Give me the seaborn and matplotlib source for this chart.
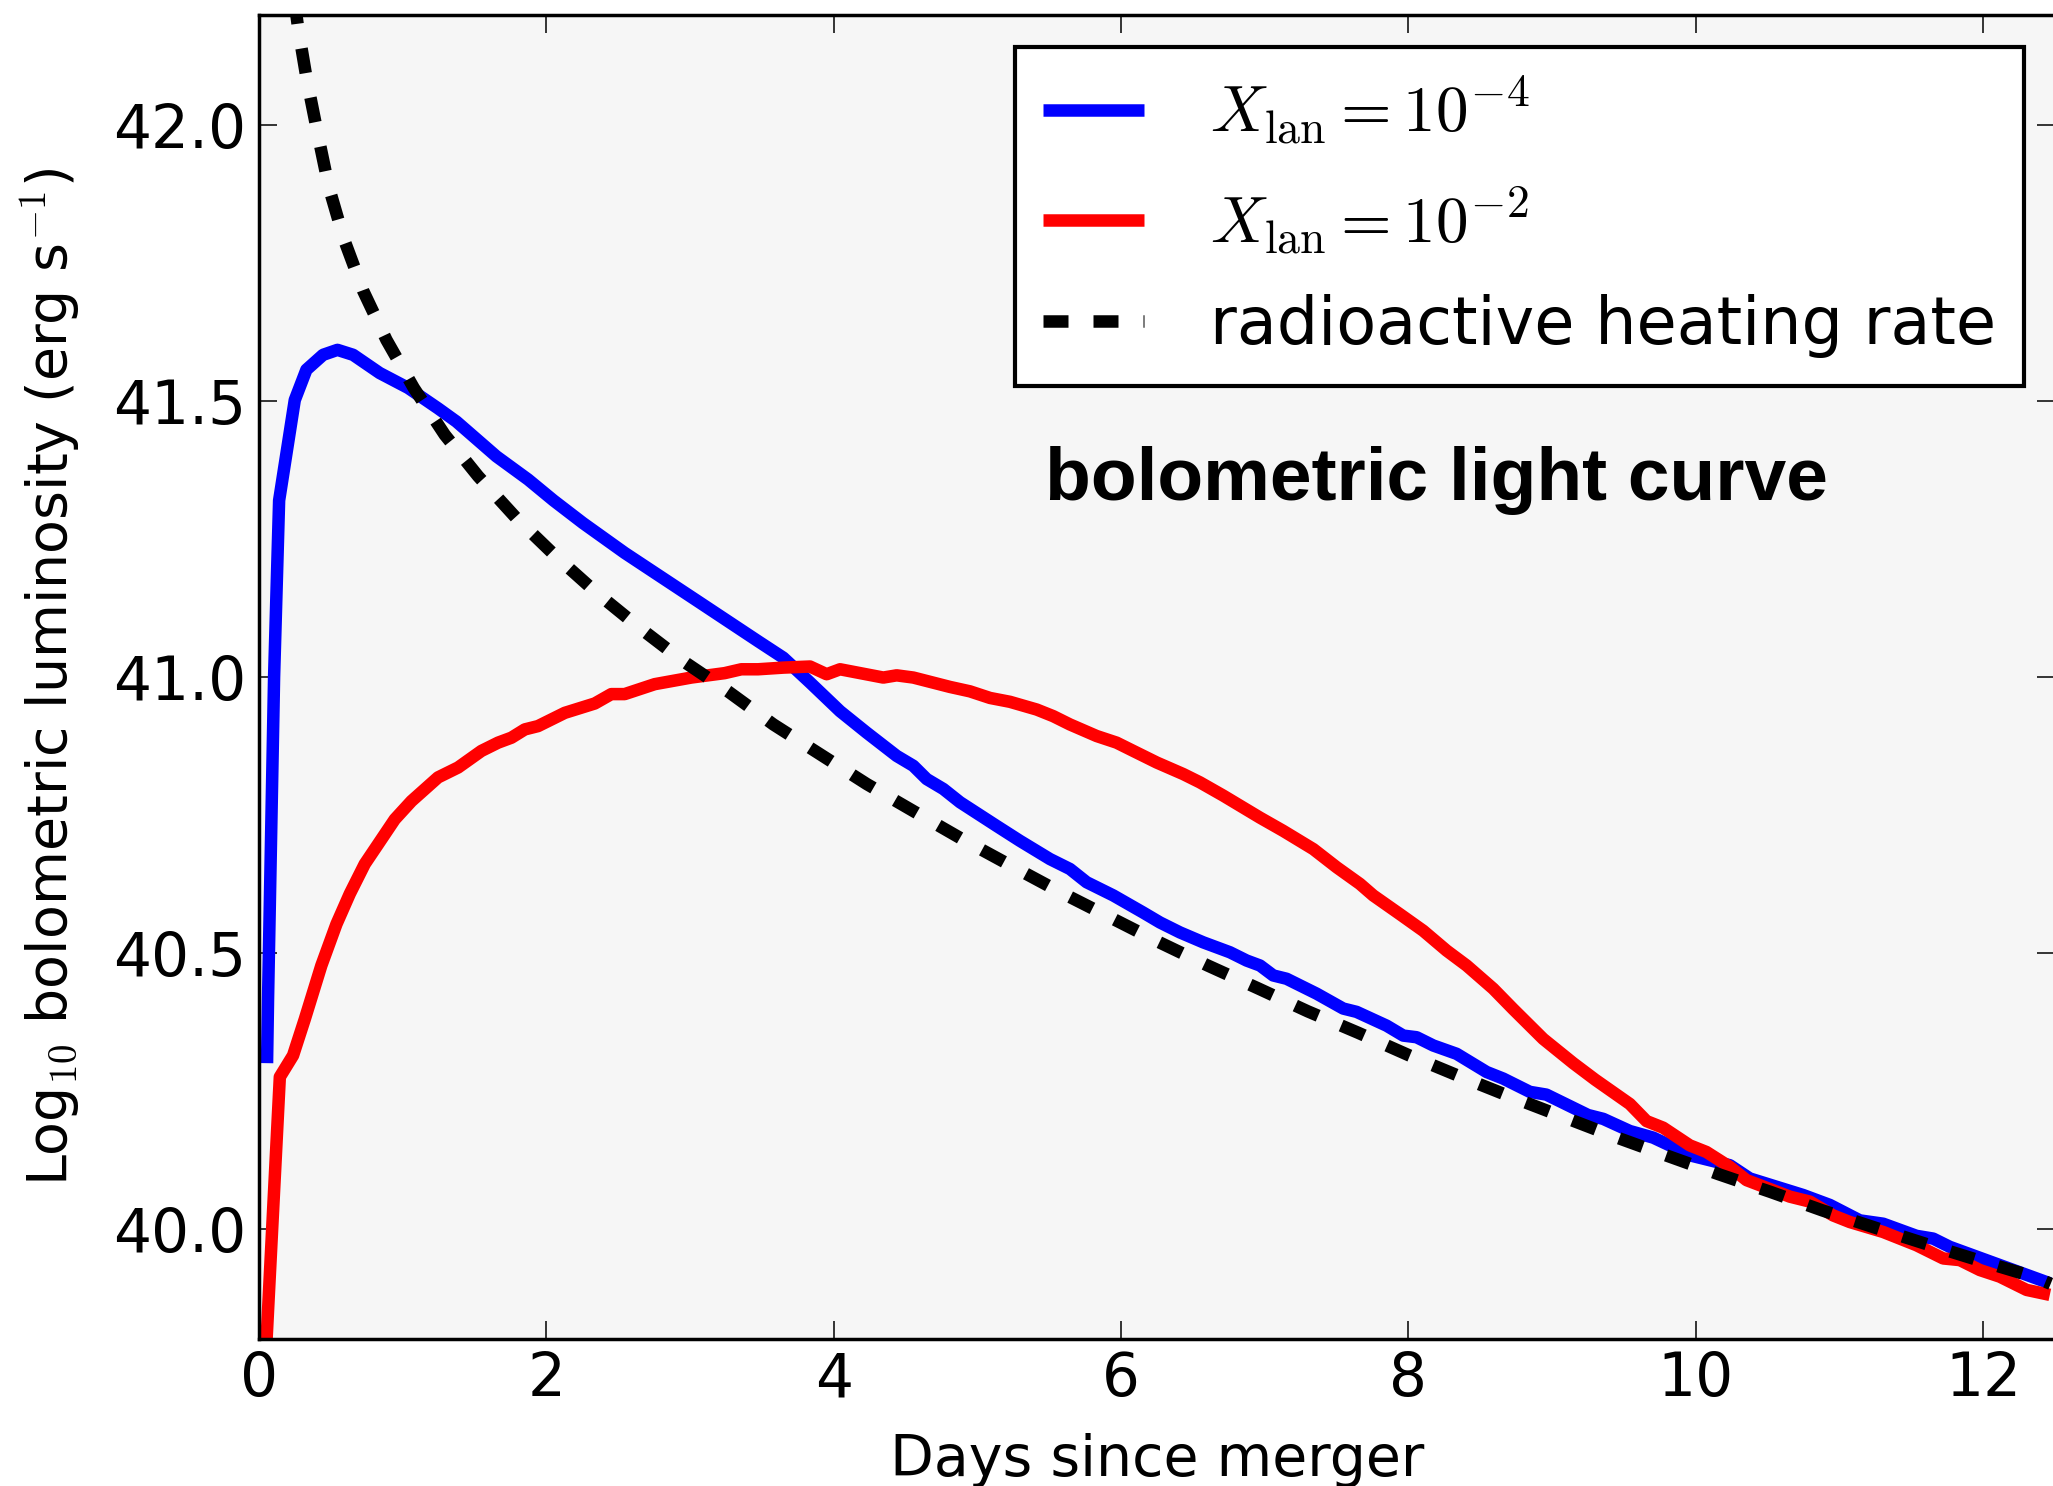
import matplotlib
matplotlib.use("Agg")
import matplotlib.pyplot as plt
import seaborn as sns

# ---------------- data ----------------
days_blue = [0.056, 0.063, 0.105, 0.140, 0.249, 0.330, 0.446, 0.546, 0.655, 0.840,
             1.038, 1.246, 1.374, 1.652, 1.873, 2.050, 2.255, 2.545, 2.754, 3.056,
             3.334, 3.473, 3.649, 3.835, 4.044, 4.230, 4.438, 4.554, 4.647, 4.763,
             4.879, 5.134, 5.296, 5.505, 5.644, 5.760, 5.946, 6.154, 6.271, 6.410,
             6.572, 6.758, 6.874, 6.967, 7.059, 7.152, 7.361, 7.546, 7.639, 7.848,
             7.964, 8.057, 8.173, 8.335, 8.544, 8.660, 8.845, 8.960, 9.250, 9.356,
             9.541, 9.704, 9.843, 9.958, 10.237, 10.376, 10.747, 10.933, 11.142, 11.304,
             11.536, 11.652, 11.768, 12.116, 12.464]
lum_blue = [40.30, 40.417, 41.0, 41.32, 41.502, 41.557, 41.584, 41.593, 41.584, 41.551,
            41.524, 41.487, 41.463, 41.40, 41.358, 41.32, 41.279, 41.225, 41.189, 41.137,
            41.089, 41.065, 41.035, 40.99, 40.938, 40.899, 40.857, 40.839, 40.815, 40.797,
            40.773, 40.73, 40.703, 40.67, 40.652, 40.628, 40.604, 40.573, 40.555, 40.537,
            40.519, 40.501, 40.486, 40.477, 40.459, 40.453, 40.426, 40.399, 40.393, 40.368,
            40.35, 40.347, 40.332, 40.317, 40.284, 40.272, 40.248, 40.243, 40.206, 40.199,
            40.177, 40.165, 40.148, 40.133, 40.115, 40.091, 40.061, 40.043, 40.015, 40.009,
            39.987, 39.982, 39.967, 39.934, 39.901]

days_red = [0.051, 0.145, 0.237, 0.319, 0.434, 0.539, 0.632, 0.736, 0.829, 0.945,
            1.061, 1.246, 1.386, 1.548, 1.664, 1.757, 1.850, 1.942, 2.128, 2.337,
            2.452, 2.545, 2.754, 3.009, 3.241, 3.357, 3.473, 3.649, 3.835, 3.951,
            4.044, 4.345, 4.438, 4.554, 4.809, 4.948, 5.088, 5.227, 5.413, 5.528,
            5.644, 5.830, 5.969, 6.085, 6.248, 6.433, 6.549, 6.711, 6.967, 7.129,
            7.338, 7.501, 7.662, 7.755, 7.941, 8.103, 8.266, 8.405, 8.590, 8.729,
            8.938, 9.147, 9.300, 9.541, 9.657, 9.773, 9.958, 10.074, 10.237, 10.353,
            10.655, 10.794, 10.956, 11.072, 11.304, 11.536, 11.722, 11.838, 11.977, 12.116,
            12.302, 12.464]
lum_red = [39.79, 40.275, 40.314, 40.38, 40.477, 40.552, 40.607, 40.661, 40.697, 40.742,
           40.775, 40.818, 40.836, 40.866, 40.881, 40.89, 40.905, 40.911, 40.935, 40.952,
           40.969, 40.969, 40.987, 40.999, 41.007, 41.014, 41.014, 41.017, 41.019, 41.005,
           41.014, 40.999, 41.003, 40.999, 40.982, 40.974, 40.962, 40.955, 40.941, 40.929,
           40.914, 40.893, 40.881, 40.866, 40.845, 40.824, 40.809, 40.785, 40.745, 40.721,
           40.688, 40.655, 40.625, 40.604, 40.570, 40.540, 40.504, 40.477, 40.435, 40.398,
           40.344, 40.30, 40.27, 40.226, 40.195, 40.183, 40.151, 40.139, 40.112, 40.088,
           40.058, 40.049, 40.024, 40.012, 39.994, 39.970, 39.946, 39.943, 39.925, 39.913,
           39.889, 39.880]

days_heat = [0.22, 0.272, 0.330, 0.406, 0.486, 0.592, 0.725, 0.887, 1.077, 1.293,
             1.525, 1.791, 2.065, 2.348, 2.650, 2.951, 3.264, 3.580, 3.905, 4.230,
             4.561, 4.895, 5.234, 5.570, 5.911, 6.259, 6.603, 6.950, 7.299, 7.651,
             8.006, 8.358, 8.713, 9.073, 9.432, 9.792, 10.156, 10.516, 10.882, 11.246,
             11.606, 11.977, 12.348, 12.47]
lum_heat = [42.28, 42.177, 42.087, 41.988, 41.888, 41.793, 41.70, 41.611, 41.524, 41.439,
            41.364, 41.288, 41.219, 41.153, 41.089, 41.029, 40.974, 40.914, 40.86, 40.806,
            40.756, 40.706, 40.658, 40.611, 40.566, 40.52, 40.477, 40.436, 40.394, 40.355,
            40.314, 40.276, 40.239, 40.203, 40.167, 40.133, 40.099, 40.067, 40.033, 40.002,
            39.972, 39.942, 39.913, 39.90]

series_labels = [r"$X_{\rm lan}=10^{-4}$", r"$X_{\rm lan}=10^{-2}$", "radioactive heating rate"]
x_ticks = [0, 2, 4, 6, 8, 10, 12]
x_ticklabels = ["0", "2", "4", "6", "8", "10", "12"]
y_ticks = [40.0, 40.5, 41.0, 41.5, 42.0]
y_ticklabels = ["40.0", "40.5", "41.0", "41.5", "42.0"]
annotation = "bolometric light curve"
x_label = "Days since merger"
y_label = r"Log$_{10}$ bolometric luminosity (erg s$^{-1}$)"

# ---------------- style ----------------
sns.set_theme(style="ticks")
plt.rcParams["font.family"] = ["DejaVu Sans"]
plt.rcParams["mathtext.fontset"] = "cm"
plt.rcParams["axes.linewidth"] = 2.5
for k in ["text.color", "axes.labelcolor", "xtick.color", "ytick.color", "axes.edgecolor"]:
    plt.rcParams[k] = "black"

W, H = 2053, 1486
fig = plt.figure(figsize=(W / 100, H / 100), dpi=100)
ax_l, ax_r, ax_t, ax_b = 259, 2055, 15, 1339
ax = fig.add_axes([ax_l / W, 1 - ax_b / H, (ax_r - ax_l) / W, (ax_b - ax_t) / H])
ax.set_facecolor("#f6f6f6")

LW = 9
sns.lineplot(x=days_blue, y=lum_blue, ax=ax, color="#0000ff", lw=LW, sort=False,
             estimator=None, label=series_labels[0], solid_capstyle="butt")
sns.lineplot(x=days_red, y=lum_red, ax=ax, color="#ff0000", lw=LW, sort=False,
             estimator=None, label=series_labels[1], solid_capstyle="butt")
sns.lineplot(x=days_heat, y=lum_heat, ax=ax, color="black", lw=LW, sort=False,
             estimator=None, label=series_labels[2])
ax.lines[-1].set_dashes([2.0, 2.0])

ax.set_xlim(0, 12.5)
ax.set_ylim(39.8, 42.2)
ax.set_xticks(x_ticks)
ax.set_xticklabels(x_ticklabels)
ax.set_yticks(y_ticks)
ax.set_yticklabels(y_ticklabels)
ax.tick_params(axis="both", which="major", direction="in", length=13, width=1.1,
               top=True, right=True, labelsize=43, color="black", labelcolor="black")
ax.tick_params(axis="x", pad=8)
ax.tick_params(axis="y", pad=9)
ax.minorticks_off()
for s in ax.spines.values():
    s.set_color("black")
    s.set_linewidth(2.5)

ax.set_xlabel(x_label, fontsize=41, labelpad=17, color="black")
ax.set_ylabel(y_label, fontsize=40, labelpad=22, color="black")

ax.text(0.4377, 0.6337, annotation, transform=ax.transAxes, fontsize=54,
        fontweight="bold", family=["Liberation Sans", "DejaVu Sans"],
        ha="left", va="baseline", color="black")

leg = ax.legend(loc="upper right", bbox_to_anchor=(0.9827, 0.9758), borderaxespad=0,
                fontsize=47, handlelength=1.56, handletextpad=1.0, borderpad=0.43,
                labelspacing=0.57, fancybox=False, framealpha=1, facecolor="white",
                edgecolor="black")
leg.get_frame().set_linewidth(3)
for t in leg.get_texts():
    t.set_color("black")

fig.savefig("out.png", dpi=100)
